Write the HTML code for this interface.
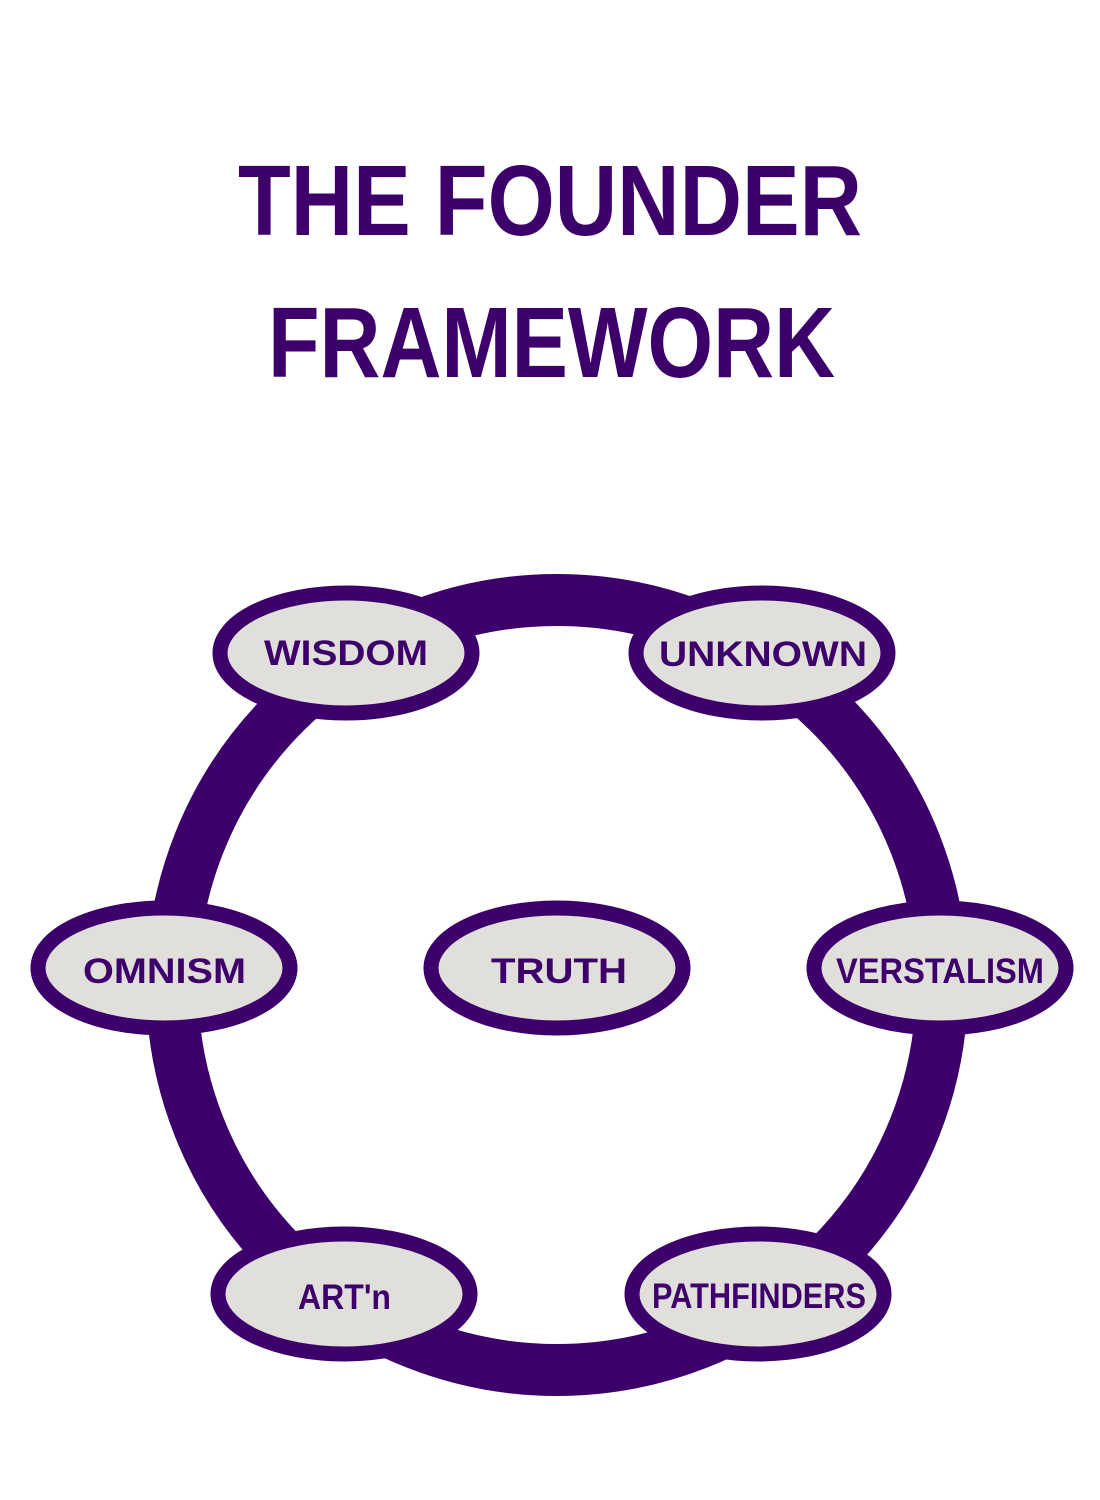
<!DOCTYPE html>
<html><head><meta charset="utf-8"><style>html,body{margin:0;padding:0;background:#fff}svg{display:block}</style></head>
<body>
<svg width="1100" height="1500" viewBox="0 0 1100 1500" xmlns="http://www.w3.org/2000/svg">
<g font-family="Liberation Sans, Arial, sans-serif" font-weight="bold" fill="#3d006b">
<text x="238" y="235" font-size="100" textLength="624" lengthAdjust="spacingAndGlyphs">THE FOUNDER</text>
<text x="268" y="377" font-size="100" textLength="567" lengthAdjust="spacingAndGlyphs">FRAMEWORK</text>
</g>
<circle cx="557" cy="985" r="385" fill="none" stroke="#3d006b" stroke-width="52"/>
<g fill="#e0dfdb" stroke="#3d006b" stroke-width="15">
<ellipse cx="346" cy="653" rx="126" ry="60"/>
<ellipse cx="762" cy="653" rx="126" ry="60"/>
<ellipse cx="164" cy="968" rx="126" ry="60"/>
<ellipse cx="557" cy="968" rx="126" ry="60"/>
<ellipse cx="940" cy="968" rx="126" ry="60"/>
<ellipse cx="344" cy="1294" rx="126" ry="60"/>
<ellipse cx="758" cy="1294" rx="126" ry="60"/>
</g>
<g font-family="Liberation Sans, Arial, sans-serif" font-weight="bold" fill="#3d006b" font-size="35" lengthAdjust="spacingAndGlyphs">
<text x="264" y="665" textLength="164" lengthAdjust="spacingAndGlyphs">WISDOM</text>
<text x="659" y="666" textLength="208" lengthAdjust="spacingAndGlyphs">UNKNOWN</text>
<text x="83" y="983" textLength="163" lengthAdjust="spacingAndGlyphs">OMNISM</text>
<text x="491" y="983" textLength="136" lengthAdjust="spacingAndGlyphs">TRUTH</text>
<text x="836" y="983" textLength="208" lengthAdjust="spacingAndGlyphs">VERSTALISM</text>
<text x="298" y="1309" textLength="93" lengthAdjust="spacingAndGlyphs">ART'n</text>
<text x="652" y="1308" textLength="214" lengthAdjust="spacingAndGlyphs">PATHFINDERS</text>
</g>
</svg>
</body></html>
